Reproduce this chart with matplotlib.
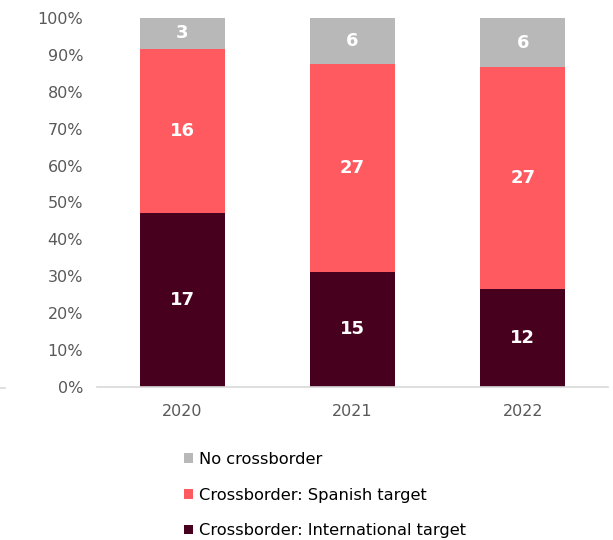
import matplotlib
matplotlib.use("Agg")
import matplotlib.pyplot as plt
from matplotlib.lines import Line2D
import numpy as np

years = ["2020", "2021", "2022"]
international = [17, 15, 12]
spanish = [16, 27, 27]
no_cross = [3, 6, 6]
series_names = ["Crossborder: International target", "Crossborder: Spanish target", "No crossborder"]
colors = ["#48001f", "#ff5a5f", "#b8b8b8"]
yticks = [0, 10, 20, 30, 40, 50, 60, 70, 80, 90, 100]

plt.rcParams['font.family'] = ['DejaVu Sans']

fig = plt.figure(figsize=(6.13, 5.4), dpi=100)
ax = fig.add_axes([97/613, 1-387/540, 511/613, 369/540])

data = np.array([international, spanish, no_cross], dtype=float)
totals = data.sum(axis=0)
pct = data / totals * 100
x = np.arange(len(years))
bottom = np.zeros(len(years))
handles = []
for i in range(3):
    b = ax.bar(x, pct[i], bottom=bottom, width=0.5, color=colors[i], label=series_names[i])
    handles.append(b)
    for j in range(len(years)):
        ax.text(x[j], bottom[j] + pct[i][j] / 2, f"{int(data[i][j])}", ha="center", va="center",
                color="white", fontsize=13, fontweight="bold")
    bottom += pct[i]

ax.set_xlim(-0.5, 2.5)
ax.set_ylim(0, 100)
ax.set_yticks(yticks)
ax.set_yticklabels([f"{t}%" for t in yticks])
ax.set_xticks(x)
ax.set_xticklabels(years)
for s in ["top", "right", "left"]:
    ax.spines[s].set_visible(False)
ax.spines["bottom"].set_color("#d9d9d9")
ax.spines["bottom"].set_linewidth(1.2)
ax.tick_params(axis="both", length=0, labelsize=11.5, colors="#595959")
ax.tick_params(axis="y", pad=10)
ax.tick_params(axis="x", pad=12)

fig.add_artist(Line2D([0, 5/613], [1-388/540, 1-388/540], color="#d9d9d9", lw=1.2))

leg = fig.legend(handles[::-1], series_names[::-1], loc="upper left",
                 bbox_to_anchor=(184/613, 1-452/540), frameon=False,
                 fontsize=11.7, handlelength=0.55, handleheight=0.55, handletextpad=0.35,
                 labelspacing=1.27, borderaxespad=0, borderpad=0)

fig.savefig("out.png", dpi=100)
